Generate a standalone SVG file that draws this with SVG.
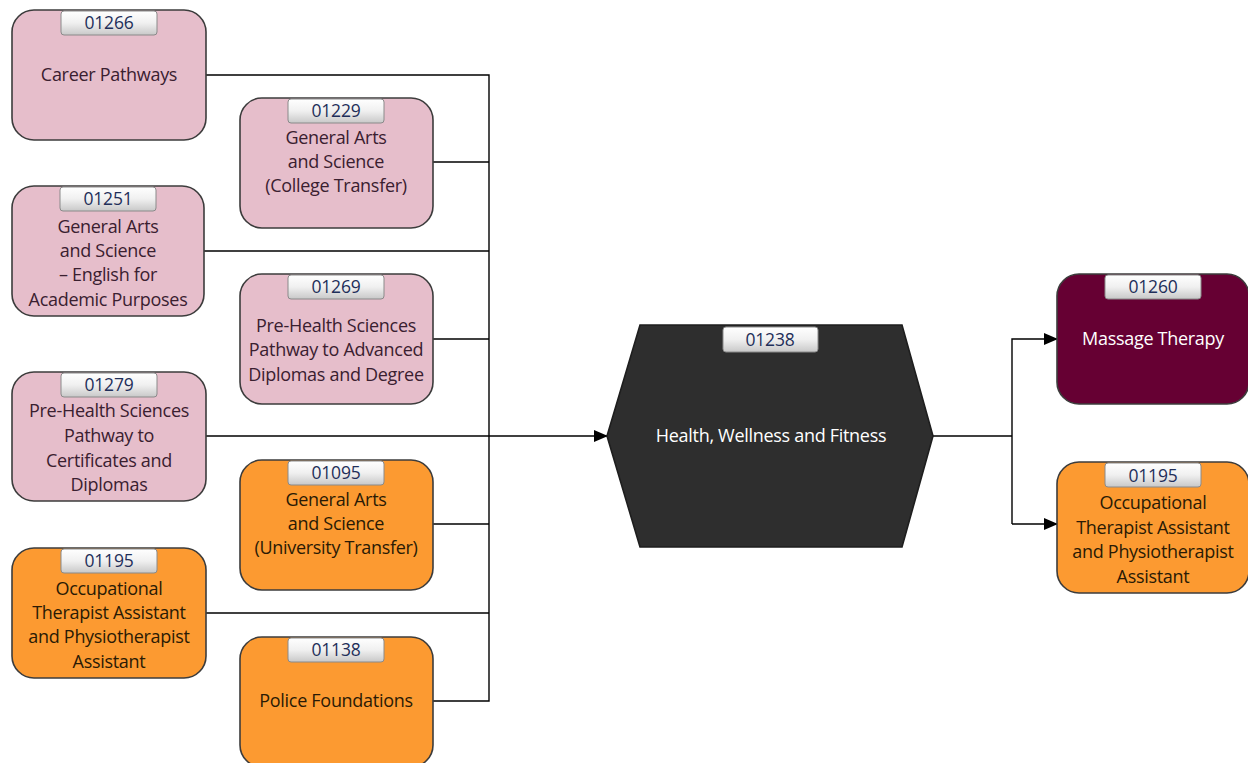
<svg xmlns="http://www.w3.org/2000/svg" width="1248" height="763" viewBox="0 0 1248 763">
<defs>
<linearGradient id="tabg" x1="0" y1="0" x2="0" y2="1">
<stop offset="0" stop-color="#ffffff"/>
<stop offset="0.5" stop-color="#f0f0f0"/>
<stop offset="1" stop-color="#c8c8c8"/>
</linearGradient>
<marker id="arr" markerWidth="14" markerHeight="12" refX="13" refY="6" orient="auto" markerUnits="userSpaceOnUse">
<path d="M0,0 L14,6 L0,12 Z" fill="#000"/>
</marker>
</defs>
<style>
.box{stroke:#3c3c3c;stroke-width:1.6}
.pink{fill:#E6BECB}
.orange{fill:#FC9A31}
.maroon{fill:#660033}
.hex{fill:#2E2E2E;stroke:#1e1e1e;stroke-width:1.6}
.tab{fill:url(#tabg);stroke:#8a8a8a;stroke-width:1}
.tt{font-family:"Open Sans","Liberation Sans",sans-serif;font-size:17.5px;fill:#1F2F5A;text-anchor:middle;letter-spacing:-0.2px}
.t{font-family:"Open Sans","Liberation Sans",sans-serif;font-size:18px;text-anchor:middle;letter-spacing:-0.3px}
.dk{fill:#3a2030}
.bk{fill:#2a1a05}
.wh{fill:#ffffff}
.ln{fill:none;stroke:#000;stroke-width:1.4}
</style>
<g id="connectors">
<polyline class="ln" points="206,75 489,75 489,701 433,701"/>
<line class="ln" x1="433" y1="162" x2="489" y2="162"/>
<line class="ln" x1="204" y1="251" x2="489" y2="251"/>
<line class="ln" x1="433" y1="339" x2="489" y2="339"/>
<line class="ln" x1="206" y1="436" x2="607" y2="436" marker-end="url(#arr)"/>
<line class="ln" x1="433" y1="524" x2="489" y2="524"/>
<line class="ln" x1="206" y1="613" x2="489" y2="613"/>
<line class="ln" x1="933" y1="436" x2="1012" y2="436"/>
<polyline class="ln" points="1012,524 1012,339 1057,339" marker-end="url(#arr)"/>
<line class="ln" x1="1012" y1="524" x2="1057" y2="524" marker-end="url(#arr)"/>
</g>
<g id="n01266">
<rect class="box pink" x="12" y="10" width="194" height="130" rx="22"/>
<rect class="tab" x="61" y="11" width="96" height="24" rx="3"/>
<text class="tt" x="109" y="29">01266</text>
<text class="t dk" x="109" y="81">Career Pathways</text>
</g>
<g id="n01229">
<rect class="box pink" x="240" y="98" width="193" height="130" rx="22"/>
<rect class="tab" x="288" y="99" width="96" height="24" rx="3"/>
<text class="tt" x="336" y="117">01229</text>
<text class="t dk" x="336" y="144">General Arts</text>
<text class="t dk" x="336" y="168">and Science</text>
<text class="t dk" x="336" y="192">(College Transfer)</text>
</g>
<g id="n01251">
<rect class="box pink" x="12" y="186" width="192" height="130" rx="22"/>
<rect class="tab" x="60" y="187" width="96" height="24" rx="3"/>
<text class="tt" x="108" y="205">01251</text>
<text class="t dk" x="108" y="233">General Arts</text>
<text class="t dk" x="108" y="257">and Science</text>
<text class="t dk" x="108" y="281">– English for</text>
<text class="t dk" x="108" y="306">Academic Purposes</text>
</g>
<g id="n01269">
<rect class="box pink" x="240" y="274" width="193" height="130" rx="22"/>
<rect class="tab" x="288" y="275" width="96" height="24" rx="3"/>
<text class="tt" x="336" y="293">01269</text>
<text class="t dk" x="336" y="332">Pre-Health Sciences</text>
<text class="t dk" x="336" y="356">Pathway to Advanced</text>
<text class="t dk" x="336" y="381">Diplomas and Degree</text>
</g>
<g id="n01279">
<rect class="box pink" x="12" y="372" width="194" height="129" rx="22"/>
<rect class="tab" x="61" y="373" width="96" height="24" rx="3"/>
<text class="tt" x="109" y="391">01279</text>
<text class="t dk" x="109" y="417">Pre-Health Sciences</text>
<text class="t dk" x="109" y="442">Pathway to</text>
<text class="t dk" x="109" y="467">Certificates and</text>
<text class="t dk" x="109" y="491">Diplomas</text>
</g>
<g id="n01095">
<rect class="box orange" x="240" y="460" width="193" height="130" rx="22"/>
<rect class="tab" x="288" y="461" width="96" height="24" rx="3"/>
<text class="tt" x="336" y="479">01095</text>
<text class="t bk" x="336" y="506">General Arts</text>
<text class="t bk" x="336" y="530">and Science</text>
<text class="t bk" x="336" y="554">(University Transfer)</text>
</g>
<g id="n01195a">
<rect class="box orange" x="12" y="548" width="194" height="130" rx="22"/>
<rect class="tab" x="61" y="549" width="96" height="24" rx="3"/>
<text class="tt" x="109" y="567">01195</text>
<text class="t bk" x="109" y="595">Occupational</text>
<text class="t bk" x="109" y="619">Therapist Assistant</text>
<text class="t bk" x="109" y="643">and Physiotherapist</text>
<text class="t bk" x="109" y="668">Assistant</text>
</g>
<g id="n01138">
<rect class="box orange" x="240" y="637" width="193" height="130" rx="22"/>
<rect class="tab" x="288" y="638" width="96" height="24" rx="3"/>
<text class="tt" x="336" y="656">01138</text>
<text class="t bk" x="336" y="707">Police Foundations</text>
</g>
<g id="n01238">
<polygon class="hex" points="640,325 902,325 933,436 902,547 640,547 607,436"/>
<rect class="tab" x="723" y="327" width="95" height="25" rx="3"/>
<text class="tt" x="770" y="346">01238</text>
<text class="t wh" x="771" y="442">Health, Wellness and Fitness</text>
</g>
<g id="n01260">
<rect class="box maroon" x="1057" y="274" width="192" height="130" rx="22"/>
<rect class="tab" x="1105" y="275" width="96" height="24" rx="3"/>
<text class="tt" x="1153" y="293">01260</text>
<text class="t wh" x="1153" y="345">Massage Therapy</text>
</g>
<g id="n01195b">
<rect class="box orange" x="1057" y="462" width="192" height="131" rx="22"/>
<rect class="tab" x="1105" y="463" width="96" height="24" rx="3"/>
<text class="tt" x="1153" y="482">01195</text>
<text class="t bk" x="1153" y="509">Occupational</text>
<text class="t bk" x="1153" y="534">Therapist Assistant</text>
<text class="t bk" x="1153" y="558">and Physiotherapist</text>
<text class="t bk" x="1153" y="583">Assistant</text>
</g>
</svg>
